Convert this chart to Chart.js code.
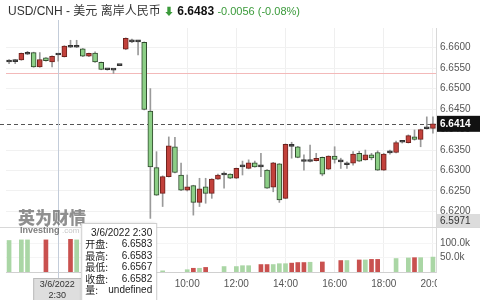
<!DOCTYPE html>
<html>
<head>
<meta charset="utf-8">
<script src="https://cdn.jsdelivr.net/npm/chart.js@4.4.0/dist/chart.umd.min.js"></script>
<style>
  html, body { margin: 0; padding: 0; background: #fff; }
  #wrap { position: relative; width: 480px; height: 300px; overflow: hidden; }
  #title { position: absolute; left: 8px; top: 2px; font: 12px "Liberation Sans", "Noto Sans CJK SC", sans-serif; color: #333; white-space: nowrap; line-height: 18px; }
  #title .dn { color: #3a9a3a; font-size: 10px; }
  #title b { color: #111; }
  #title .chg { color: #3a9a3a; font-size: 11px; }
</style>
</head>
<body>
<div id="wrap">
  <canvas id="chart" width="480" height="300"></canvas>
  <div id="title">USD/CNH - 美元 离岸人民币 <span class="dn">⬇</span> <b>6.6483</b> <span class="chg">-0.0056 (-0.08%)</span></div>
</div>
<script>
'use strict'

var times = ['0:30', '0:45', '1:00', '1:15', '1:30', '1:45', '2:00', '2:15', '2:30', '2:45', '3:00', '3:15', '3:30', '3:45', '4:00', '4:15', '4:30', '4:45', '5:00', '5:15', '5:30', '5:45',
  '8:15', '8:30', '8:45', '9:00', '9:15', '9:30', '9:45', '10:00', '10:15', '10:30', '10:45', '11:00', '11:15', '11:30', '11:45', '12:00',
  '12:15', '12:30', '12:45', '13:00', '13:15', '13:30', '13:45', '14:00', '14:15', '14:30', '14:45', '15:00', '15:15', '15:30', '15:45', '16:00',
  '16:15', '16:30', '16:45', '17:00', '17:15', '17:30', '17:45', '18:00', '18:15', '18:30', '18:45', '19:00', '19:15', '19:30', '19:45', '20:00'];
var tickLabels = ['10:00', '12:00', '14:00', '16:00', '18:00', '20:00'];

var opens = [6.6566, 6.6566, 6.6570, 6.6584, 6.6588, 6.6553, 6.6575, 6.6565, 6.6583, 6.6578,
  6.6601, 6.6602, 6.6597, 6.6579, 6.6587, 6.6564, 6.6547, 6.6546, 6.6557, 6.6596,
  6.6614, 6.6615, 6.6613, 6.6445, 6.6307, 6.6244, 6.6285, 6.6358, 6.6289, 6.6252,
  6.6263, 6.6222, 6.6260, 6.6244, 6.6279, 6.6289, 6.6291, 6.6281, 6.6309, 6.6305,
  6.6319, 6.6309, 6.6301, 6.6259, 6.6316, 6.6232, 6.6359, 6.6358, 6.6323, 6.6322,
  6.6324, 6.6332, 6.6303, 6.6335, 6.6321, 6.6315, 6.6318, 6.6342, 6.6326, 6.6338,
  6.6344, 6.6301, 6.6343, 6.6344, 6.6369, 6.6368, 6.6382, 6.6376, 6.6402, 6.6403];
var highs = [6.6571, 6.6571, 6.6587, 6.6591, 6.6589, 6.6588, 6.6576, 6.6580, 6.6583, 6.6605,
  6.6618, 6.6618, 6.6598, 6.6587, 6.6590, 6.6565, 6.6548, 6.6547, 6.6557, 6.6624,
  6.6621, 6.6618, 6.6614, 6.6500, 6.6346, 6.6287, 6.6382, 6.6381, 6.6318, 6.6289,
  6.6264, 6.6281, 6.6281, 6.6280, 6.6291, 6.6297, 6.6292, 6.6306, 6.6323, 6.6326,
  6.6323, 6.6342, 6.6302, 6.6320, 6.6317, 6.6365, 6.6369, 6.6359, 6.6338, 6.6362,
  6.6342, 6.6333, 6.6336, 6.6358, 6.6330, 6.6321, 6.6346, 6.6347, 6.6350, 6.6342,
  6.6348, 6.6342, 6.6350, 6.6372, 6.6372, 6.6387, 6.6399, 6.6401, 6.6431, 6.6431];
var lows = [6.6561, 6.6561, 6.6569, 6.6583, 6.6552, 6.6552, 6.6567, 6.6553, 6.6567, 6.6577,
  6.6600, 6.6600, 6.6578, 6.6578, 6.6564, 6.6546, 6.6545, 6.6537, 6.6556, 6.6595,
  6.6612, 6.6582, 6.6448, 6.6183, 6.6239, 6.6212, 6.6284, 6.6294, 6.6251, 6.6250,
  6.6191, 6.6212, 6.6220, 6.6232, 6.6278, 6.6257, 6.6280, 6.6280, 6.6289, 6.6304,
  6.6308, 6.6285, 6.6256, 6.6248, 6.6222, 6.6231, 6.6330, 6.6331, 6.6301, 6.6321,
  6.6323, 6.6287, 6.6302, 6.6318, 6.6305, 6.6305, 6.6313, 6.6322, 6.6325, 6.6326,
  6.6300, 6.6300, 6.6340, 6.6343, 6.6367, 6.6367, 6.6374, 6.6358, 6.6401, 6.6391];
var closes = [6.6565, 6.6567, 6.6586, 6.6585, 6.6553, 6.6571, 6.6568, 6.6579, 6.6582, 6.6604,
  6.6602, 6.6601, 6.6579, 6.6586, 6.6565, 6.6547, 6.6546, 6.6545, 6.6556, 6.6623,
  6.6615, 6.6614, 6.6449, 6.6309, 6.6240, 6.6285, 6.6360, 6.6295, 6.6252, 6.6260,
  6.6222, 6.6255, 6.6244, 6.6279, 6.6289, 6.6290, 6.6281, 6.6305, 6.6310, 6.6319,
  6.6309, 6.6310, 6.6257, 6.6319, 6.6228, 6.6364, 6.6360, 6.6332, 6.6322, 6.6323,
  6.6330, 6.6291, 6.6335, 6.6327, 6.6322, 6.6314, 6.6340, 6.6323, 6.6338, 6.6331,
  6.6301, 6.6340, 6.6344, 6.6368, 6.6370, 6.6385, 6.6376, 6.6400, 6.6403, 6.6414];

// volume, null where the feed has none (undefined)
var volumes = [110000, null, 112000, 112000, null, null, 112000, null, null, null,
  114000, 112000, null, null, null, null, null, null, null, null,
  null, null, null, null, null, 4000, null, null, null, 8000,
  13000, 13000, 16000, null, null, 19000, null, 19000, 22000, 22000,
  null, 26000, 26000, 26000, 29000, 29000, 31000, 33000, 33000, 34000,
  null, 35000, null, null, 40000, 40000, null, 42000, 42000, 44000,
  44000, null, null, 47000, null, 49000, 50000, 50000, null, 52000];
var volUp = [0, 0, 0, 0, 0, 0, 1, 0, 0, 0,
  1, 0, 0, 0, 0, 0, 0, 0, 0, 0,
  0, 0, 0, 0, 0, 0, 0, 0, 0, 0,
  1, 0, 1, 0, 0, 0, 0, 0, 0, 0,
  0, 1, 1, 0, 0, 0, 1, 1, 1, 0,
  0, 1, 0, 0, 1, 0, 0, 1, 0, 1,
  1, 0, 0, 0, 0, 0, 1, 0, 0, 0];

var priceTicks = [6.6200, 6.6250, 6.6300, 6.6350, 6.6400, 6.6450, 6.6500, 6.6550, 6.6600];
var volTicks = [50000, 100000];
var prevClose = 6.6538;
var lastPrice = 6.6414;
var cursorIndex = 8;
var cursorDate = '3/6/2022';
var cursorPrice = '6.5971';

var GREEN = '#8ccf86';
var GREEN_EDGE = '#2f4a2c';
var RED = '#c2413b';
var RED_EDGE = '#6e221e';
var DOJI = '#333';

var bodyFill = [];
var bodyEdge = [];
for (var i = 0; i < opens.length; i++) {
  var d = closes[i] - opens[i];
  if (Math.abs(d) < 0.00015) {
    bodyFill.push(DOJI);
    bodyEdge.push(DOJI);
  } else if (d > 0) {
    bodyFill.push(RED);
    bodyEdge.push(RED_EDGE);
  } else {
    bodyFill.push(GREEN);
    bodyEdge.push(GREEN_EDGE);
  }
}

var FONT = '"Liberation Sans", "Noto Sans CJK SC", sans-serif';

var overlay = {
  id: 'overlay',
  beforeDatasetsDraw: function(chart) {
    var ctx = chart.ctx;
    var area = chart.chartArea;
    var y = chart.scales.y;
    var x = chart.scales.x;
    ctx.save();
    // previous close
    ctx.strokeStyle = '#f3b9b9';
    ctx.lineWidth = 1;
    var py = Math.round(y.getPixelForValue(prevClose)) + 0.5;
    ctx.beginPath();
    ctx.moveTo(area.left, py);
    ctx.lineTo(area.right, py);
    ctx.stroke();
    // last price
    ctx.strokeStyle = '#555';
    ctx.setLineDash([4, 3]);
    var ly = Math.round(y.getPixelForValue(lastPrice)) + 0.5;
    ctx.beginPath();
    ctx.moveTo(0, ly);
    ctx.lineTo(area.right, ly);
    ctx.stroke();
    ctx.setLineDash([]);
    // crosshair
    var cx = Math.round(x.getPixelForValue(cursorIndex)) + 0.5;
    ctx.strokeStyle = '#c3ccd9';
    ctx.beginPath();
    ctx.moveTo(cx, 20);
    ctx.lineTo(cx, 279);
    ctx.stroke();
    // panel divider
    ctx.strokeStyle = '#d8d8d8';
    ctx.beginPath();
    ctx.moveTo(0, Math.round(y.bottom) + 0.5);
    ctx.lineTo(chart.width, Math.round(y.bottom) + 0.5);
    ctx.stroke();
    // watermark
    ctx.fillStyle = 'rgba(95,95,95,0.7)';
    ctx.font = '900 17px "Noto Sans CJK SC", sans-serif';
    ctx.textBaseline = 'alphabetic';
    ctx.fillText('英为财情', 18, 224);
    ctx.font = 'bold 9px ' + FONT;
    ctx.fillStyle = 'rgba(70,70,70,0.7)';
    ctx.fillText('Investing', 20, 233);
    ctx.fillStyle = 'rgba(150,150,150,0.55)';
    ctx.font = '8px ' + FONT;
    ctx.fillText('.com', 20 + 42, 233);
    ctx.restore();
  },
  afterDraw: function(chart) {
    var ctx = chart.ctx;
    var area = chart.chartArea;
    var y = chart.scales.y;
    var x = chart.scales.x;
    ctx.save();
    // clip x labels under the right axis
    ctx.fillStyle = '#fff';
    ctx.fillRect(area.right + 1, x.top + 1, chart.width - area.right, x.height);
    // last price label
    var ly = y.getPixelForValue(lastPrice);
    ctx.fillStyle = '#111';
    ctx.fillRect(area.right + 1, ly - 8, chart.width - area.right, 16);
    ctx.fillStyle = '#fff';
    ctx.font = 'bold 10px ' + FONT;
    ctx.textBaseline = 'middle';
    ctx.textAlign = 'left';
    ctx.fillText(lastPrice.toFixed(4), area.right + 4, ly);
    // crosshair price label
    ctx.fillStyle = '#dcdcdc';
    ctx.fillRect(area.right + 1, y.bottom - 13, chart.width - area.right, 13);
    ctx.fillStyle = '#333';
    ctx.font = '10px ' + FONT;
    ctx.fillText(cursorPrice, area.right + 4, y.bottom - 6);
    // crosshair time label
    var cx = x.getPixelForValue(cursorIndex);
    ctx.fillStyle = '#dedede';
    ctx.strokeStyle = '#bbb';
    ctx.fillRect(cx - 25, 278, 49, 24);
    ctx.strokeRect(cx - 25 + 0.5, 278.5, 49, 24);
    ctx.fillStyle = '#333';
    ctx.font = '9px ' + FONT;
    ctx.textAlign = 'center';
    ctx.fillText(cursorDate, cx - 1, 285);
    ctx.fillText(times[cursorIndex], cx - 1, 296);
    // tooltip
    var tx = cx + 23;
    ctx.fillStyle = '#fff';
    ctx.strokeStyle = '#cfcfcf';
    ctx.shadowColor = 'rgba(0,0,0,0.15)';
    ctx.shadowBlur = 3;
    ctx.fillRect(tx, 223, 75, 80);
    ctx.shadowBlur = 0;
    ctx.strokeRect(tx + 0.5, 223.5, 75, 80);
    var rows = [
      ['开盘:', opens[cursorIndex].toFixed(4)],
      ['最高:', highs[cursorIndex].toFixed(4)],
      ['最低:', lows[cursorIndex].toFixed(4)],
      ['收盘:', closes[cursorIndex].toFixed(4)],
      ['量:', volumes[cursorIndex] == null ? 'undefined' : String(volumes[cursorIndex])]
    ];
    ctx.fillStyle = '#222';
    ctx.font = '10px ' + FONT;
    ctx.textAlign = 'right';
    ctx.fillText(cursorDate + ' ' + times[cursorIndex], tx + 71, 233);
    for (var r = 0; r < rows.length; r++) {
      var ry = 244.5 + r * 11.5;
      ctx.textAlign = 'left';
      ctx.font = '10px "Noto Sans CJK SC", sans-serif';
      ctx.fillText(rows[r][0], tx + 4, ry);
      ctx.textAlign = 'right';
      ctx.font = '10px ' + FONT;
      ctx.fillText(rows[r][1], tx + 71, ry);
    }
    ctx.restore();
  }
};

var canvas = document.getElementById('chart');
var ctx = canvas.getContext('2d');

var chart = new Chart(ctx, {
  type: 'bar',
  data: {
    labels: times,
    datasets: [{
      label: 'wick',
      data: lows.map(function(l, i) { return [l, highs[i]]; }),
      yAxisID: 'y',
      backgroundColor: '#9a9a9a',
      barThickness: 1,
      grouped: false,
      order: 3
    }, {
      label: 'body',
      data: opens.map(function(o, i) { return [o, closes[i]]; }),
      yAxisID: 'y',
      backgroundColor: bodyFill,
      borderColor: bodyEdge,
      borderWidth: 1,
      borderSkipped: false,
      minBarLength: 2,
      barThickness: 5,
      grouped: false,
      order: 2
    }, {
      label: 'volume',
      data: volumes,
      yAxisID: 'v',
      backgroundColor: volUp.map(function(u) { return u ? '#c9514f' : '#aad6a5'; }),
      barThickness: 4,
      grouped: false,
      order: 1
    }]
  },
  options: {
    responsive: false,
    animation: false,
    layout: {
      padding: { top: 28, left: 6, right: 0, bottom: 0 }
    },
    plugins: {
      legend: { display: false },
      tooltip: { enabled: false }
    },
    scales: {
      x: {
        offset: true,
        border: { color: '#d0d0d0' },
        grid: {
          offset: false,
          drawTicks: false,
          color: function(c) { return tickLabels.indexOf(times[c.index]) >= 0 ? '#efefef' : 'rgba(0,0,0,0)'; }
        },
        ticks: {
          autoSkip: false,
          maxRotation: 0,
          padding: 6,
          color: '#555',
          font: { size: 10, family: FONT },
          callback: function(v, i) { return tickLabels.indexOf(times[i]) >= 0 ? times[i] : ''; }
        },
        afterFit: function(s) { s.height = 28; }
      },
      y: {
        position: 'right',
        stack: 'main',
        stackWeight: 199,
        min: 6.6162,
        max: 6.6648,
        border: { color: '#d8d8d8' },
        grid: { color: '#f1f1f1', drawTicks: false },
        afterBuildTicks: function(s) { s.ticks = priceTicks.map(function(v) { return { value: v }; }); },
        ticks: {
          autoSkip: false,
          padding: 4,
          color: '#555',
          font: { size: 10, family: FONT },
          callback: function(v) { return v.toFixed(4); }
        },
        afterFit: function(s) { s.width = 44; }
      },
      v: {
        position: 'right',
        stack: 'main',
        stackWeight: 45,
        min: 0,
        max: 157000,
        border: { color: '#d8d8d8' },
        grid: { color: '#f5f5f5', drawTicks: false },
        afterBuildTicks: function(s) { s.ticks = volTicks.map(function(v) { return { value: v }; }); },
        ticks: {
          autoSkip: false,
          padding: 4,
          color: '#555',
          font: { size: 10, family: FONT },
          callback: function(v) { return (v / 1000).toFixed(1) + 'k'; }
        },
        afterFit: function(s) { s.width = 44; }
      }
    }
  },
  plugins: [overlay]
});
</script>
</body>
</html>
